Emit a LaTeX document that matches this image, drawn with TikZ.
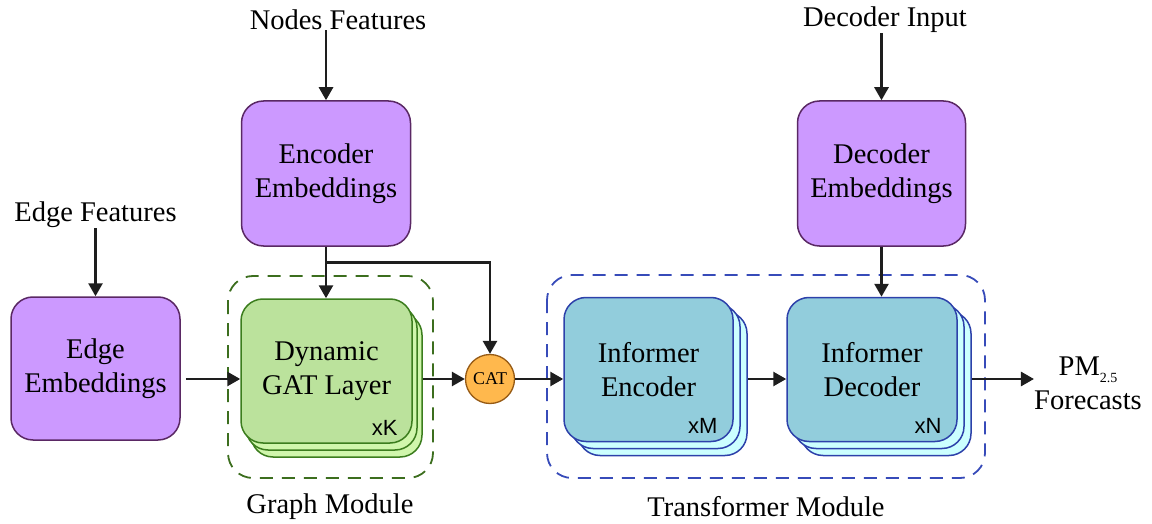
\documentclass[tikz,border=0pt]{standalone}
\usepackage{fontspec}
\setmainfont{Liberation Serif}
\setsansfont{Liberation Sans}
\usetikzlibrary{arrows.meta,calc}

\definecolor{embfill}{RGB}{204,153,255}
\definecolor{embline}{RGB}{90,40,100}
\definecolor{gatfill}{RGB}{187,226,156}
\definecolor{gatback}{RGB}{208,246,172}
\definecolor{gatline}{RGB}{60,125,30}
\definecolor{grpgreen}{RGB}{60,110,30}
\definecolor{infill}{RGB}{146,205,220}
\definecolor{inback}{RGB}{204,255,255}
\definecolor{infline}{RGB}{45,65,170}
\definecolor{grpblue}{RGB}{55,75,185}
\definecolor{catfill}{RGB}{255,184,77}
\definecolor{catline}{RGB}{150,90,20}
\definecolor{ink}{RGB}{30,30,30}

\begin{document}
\begin{tikzpicture}[x=1pt,y=-1pt,
  lbl/.style={font=\fontsize{28.5}{34}\selectfont, inner sep=0pt},
  box/.style={rounded corners=22pt, line width=1.5pt, minimum width=169pt,
    minimum height=144pt, align=center, inner sep=0pt,
    font=\fontsize{28.5}{34}\selectfont},
  emb/.style={box, fill=embfill, draw=embline},
  gatbox/.style={box, fill=gatfill, draw=gatline, minimum width=171pt},
  gatcopy/.style={gatbox, fill=gatback},
  infbox/.style={box, fill=infill, draw=infline},
  infcopy/.style={infbox, fill=inback},
  group/.style={rounded corners=25pt, line width=1.8pt, dash pattern=on 13pt off 9pt},
  arr/.style={draw=ink, line width=2.7pt, -{Triangle[length=13pt,width=14pt]}},
  count/.style={font=\sffamily\fontsize{22}{22}\selectfont, anchor=base east, inner sep=0pt},
]
\useasboundingbox (0,0) rectangle (1152,524);

% module frames
\draw[group, draw=grpgreen] (228,276) rectangle (433,478);
\draw[group, draw=grpblue] (547,275) rectangle (985,478);

% input labels
\node[lbl] (nf) at (338,20) {Nodes Features};
\node[lbl] (ef) at (95.5,215) {Edge Features};
\node[lbl] (di) at (885,20) {Decoder Input};

% embedding blocks
\node[emb, minimum height=145pt] (enc) at (326,173.5) {Encoder\\Embeddings};
\node[emb, minimum height=143pt] (edge) at (95.5,368.5) {Edge\\Embeddings};
\node[emb, minimum width=168pt, minimum height=145pt] (dec) at (881.5,173.5) {Decoder\\Embeddings};

% stacked GAT layers
\node[gatcopy] (gat3) at (336.5,385) {};
\node[gatcopy] (gat2) at (331.5,378) {};
\node[gatbox] (gat) at (326.5,371) {Dynamic\\GAT Layer};
\node[count] (xk) at ($(gat.south east)+(-15,-8)$) {xK};

% stacked Informer encoder
\node[infcopy] (ienc3) at (662.5,383.5) {};
\node[infcopy] (ienc2) at (655.5,376.5) {};
\node[infbox] (ienc) at (648.5,369.5) {Informer\\Encoder};
\node[count] (xm) at ($(ienc.south east)+(-16,-9)$) {xM};

% stacked Informer decoder
\node[infcopy, minimum width=170pt] (idec3) at (886,383.5) {};
\node[infcopy, minimum width=170pt] (idec2) at (879,376.5) {};
\node[infbox, minimum width=170pt] (idec) at (872,369.5) {Informer\\Decoder};
\node[count] (xn) at ($(idec.south east)+(-16,-9)$) {xN};

% concatenation
\node[circle, draw=catline, fill=catfill, line width=1.3pt, minimum size=49pt,
  inner sep=0pt, font=\fontsize{18}{18}\selectfont] (cat) at (490,379) {CAT};

% output and module captions
\node[lbl, align=center] (out) at (1088,383)
  {PM\raisebox{-7pt}{\fontsize{14}{14}\selectfont 2.5}\\Forecasts};
\node[lbl] (gm) at (330,507) {Graph Module};
\node[lbl] (tm) at (766,507) {Transformer Module};

% connectors
\draw[arr] (nf.south -| enc.north) -- (enc.north);
\draw[arr] (ef.south -| edge.north) -- (edge.north);
\draw[arr] (di.south -| dec.north) -- (dec.north);
\draw[arr] (enc.south) -- (enc.south |- gat.north);
\coordinate (br) at ($(enc.south)+(0,16)$);
\draw[arr] (br) -| (cat.north);
\draw[arr] (dec.south) -- (dec.south |- idec.north);
\draw[arr, shorten <=5pt] (edge.east |- cat) -- (gat.west |- cat);
\draw[arr] (gat3.east |- cat) -- (cat.west);
\draw[arr] (cat.east) -- (ienc.west |- cat);
\draw[arr] (ienc3.east |- cat) -- (idec.west |- cat);
\draw[arr] (idec3.east |- cat) -- (out.west |- cat);
\end{tikzpicture}
\end{document}
